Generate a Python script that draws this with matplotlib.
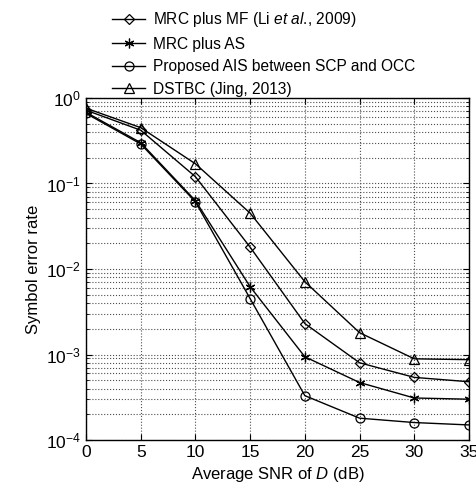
import matplotlib
matplotlib.use('Agg')
import matplotlib.pyplot as plt
from matplotlib.ticker import LogLocator, NullFormatter

plt.rcParams['font.family'] = ['Liberation Sans', 'DejaVu Sans']
plt.rcParams['mathtext.fontset'] = 'custom'
plt.rcParams['mathtext.rm'] = 'Liberation Sans'
plt.rcParams['mathtext.it'] = 'Liberation Sans:italic'

snr = [0, 5, 10, 15, 20, 25, 30, 35]
ser_mf = [0.72, 0.42, 0.12, 0.018, 0.0023, 8.0e-4, 5.4e-4, 4.8e-4]
ser_as = [0.68, 0.30, 0.063, 0.0062, 9.4e-4, 4.7e-4, 3.1e-4, 3.0e-4]
ser_ais = [0.66, 0.29, 0.061, 0.0045, 3.3e-4, 1.8e-4, 1.6e-4, 1.5e-4]
ser_dstbc = [0.76, 0.45, 0.17, 0.045, 0.0071, 0.0018, 8.9e-4, 8.7e-4]

labels = ['MRC plus MF (Li $\\it{et\\ al}$., 2009)',
          'MRC plus AS',
          'Proposed AIS between SCP and OCC',
          'DSTBC (Jing, 2013)']

fig = plt.figure(figsize=(4.76, 4.96), dpi=100)
ax = fig.add_axes([86 / 476, 1 - 440 / 496, 383 / 476, 342 / 496])

kw = dict(color='black', lw=1.0, markerfacecolor='none', markeredgecolor='black',
          markeredgewidth=0.9)
h1, = ax.semilogy(snr, ser_mf, marker='D', markersize=5, **kw)
h2, = ax.semilogy(snr, ser_as, marker=(6, 2, 0), markersize=7, **kw)
h3, = ax.semilogy(snr, ser_ais, marker='o', markersize=6.5, **kw)
h4, = ax.semilogy(snr, ser_dstbc, marker='^', markersize=7, **kw)

ax.set_xlim(0, 35)
ax.set_ylim(1e-4, 1)
ax.set_xticks(range(0, 36, 5))
ax.yaxis.set_major_locator(LogLocator(base=10, numticks=10))
ax.yaxis.set_minor_locator(LogLocator(base=10, subs=range(2, 10), numticks=10))
ax.yaxis.set_minor_formatter(NullFormatter())
ax.tick_params(which='both', direction='in', top=True, right=True, labelsize=12.5)
ax.tick_params(which='major', length=4)
ax.tick_params(which='minor', length=2)
ax.grid(True, which='major', ls=':', color='0.3', lw=0.8)
ax.grid(True, which='minor', axis='y', ls=':', color='0.3', lw=0.8)
for s in ax.spines.values():
    s.set_linewidth(1.0)

ax.set_xlabel('Average SNR of $\\it{D}$ (dB)', fontsize=12)
ax.set_ylabel('Symbol error rate', fontsize=12)

fig.legend([h1, h2, h3, h4], labels, loc='upper left', bbox_to_anchor=(106 / 476, 1 - 4 / 496),
           frameon=False, fontsize=11.2, handlelength=2.1, handletextpad=0.5, labelspacing=0.48,
           borderaxespad=0)

fig.savefig('out.png', dpi=100)
